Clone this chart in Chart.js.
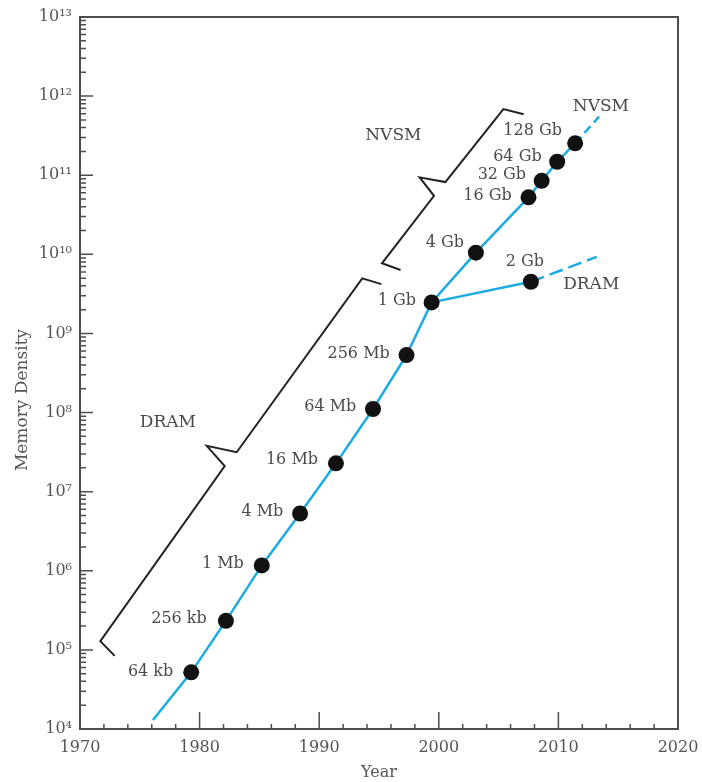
<!DOCTYPE html>
<html>
<head>
<meta charset="utf-8">
<script src="https://cdn.jsdelivr.net/npm/chart.js@4.4.0/dist/chart.umd.min.js"></script>
<style>
html, body { margin: 0; padding: 0; background: #fff; }
#wrap { width: 702px; height: 782px; }
</style>
</head>
<body>
<div id="wrap"><canvas id="memChart"></canvas></div>
<script>
// chip generations
var dramNames  = ["64 kb", "256 kb", "1 Mb", "4 Mb", "16 Mb", "64 Mb", "256 Mb", "1 Gb"];
var dramYears  = [1979.3, 1982.2, 1985.2, 1988.4, 1991.4, 1994.5, 1997.3, 1999.4];
var dramValues = [5.2e4, 2.33e5, 1.17e6, 5.3e6, 2.28e7, 1.11e8, 5.33e8, 2.47e9];

var nvsmNames  = ["4 Gb", "16 Gb", "32 Gb", "64 Gb", "128 Gb"];
var nvsmYears  = [2003.1, 2007.5, 2008.6, 2009.9, 2011.4];
var nvsmValues = [1.05e10, 5.25e10, 8.5e10, 1.48e11, 2.53e11];

var dram2Name  = ["2 Gb"];
var dram2Year  = [2007.7];
var dram2Value = [4.5e9];

// trend start and dashed projections
var trendStart = [1976.1, 1.3e4];
var nvsmProjEnd = [2013.4, 5.5e11];
var dramProjEnd = [2013.2, 9.3e9];

// label anchors (right edge of text) for each chip, same order as names
var dramLabelYears  = [1977.8, 1980.6, 1983.7, 1987.0, 1989.9, 1993.1, 1995.9, 1998.1];
var dramLabelValues = [5.3e4, 2.5e5, 1.24e6, 5.57e6, 2.51e7, 1.18e8, 5.6e8, 2.59e9];
var nvsmLabelYears  = [2002.1, 2006.1, 2007.3, 2008.6, 2010.3];
var nvsmLabelValues = [1.38e10, 5.46e10, 1.0e11, 1.71e11, 3.65e11];
var dram2LabelYear  = [2007.2];
var dram2LabelValue = [8.06e9];

// era brackets
var dramBracketYears  = [1972.9, 1971.7, 1982.1, 1980.6, 1983.1, 1993.6, 1995.2];
var dramBracketValues = [8.4e4, 1.29e5, 2.1e7, 3.8e7, 3.15e7, 4.97e9, 4.2e9];
var nvsmBracketYears  = [1996.8, 1995.25, 1999.6, 1998.4, 2000.55, 2005.4, 2007.1];
var nvsmBracketValues = [6.34e9, 7.7e9, 5.5e10, 9.4e10, 8.2e10, 6.87e11, 5.9e11];

// free notes
var noteTexts  = ["DRAM", "NVSM", "NVSM", "DRAM"];
var noteYears  = [1975.0, 1993.85, 2011.2, 2010.4];
var noteValues = [7.43e7, 3.16e11, 7.35e11, 4.09e9];

var xMajor = [1970, 1980, 1990, 2000, 2010, 2020];
var yExponents = [4, 5, 6, 7, 8, 9, 10, 11, 12, 13];

var blue = "#1aabe3";
var ink = "#222";
var textGrey = "#4a4a4a";
var serif = "'DejaVu Serif', serif";

function pts(xs, ys) {
    var out = [];
    for (var i = 0; i < xs.length; i++) out.push({x: xs[i], y: ys[i]});
    return out;
}
function sup(n) {
    var s = "⁰¹²³⁴⁵⁶⁷⁸⁹";
    return String(n).split("").map(function (d) { return s[+d]; }).join("");
}

var trendXs = [trendStart[0]].concat(dramYears, nvsmYears);
var trendYs = [trendStart[1]].concat(dramValues, nvsmValues);

var lineBase = { showLine: true, pointRadius: 0, fill: false, tension: 0, borderWidth: 2.5 };

var frameAndNotes = {
    id: "frameAndNotes",
    afterDatasetsDraw: function (chart) {
        var ctx = chart.ctx, xs = chart.scales.x, ys = chart.scales.y;
        ctx.save();
        ctx.fillStyle = textGrey;
        ctx.textBaseline = "middle";
        ctx.font = "16px " + serif;
        ctx.textAlign = "right";
        var names = dramNames.concat(nvsmNames);
        var lx = dramLabelYears.concat(nvsmLabelYears);
        var ly = dramLabelValues.concat(nvsmLabelValues);
        for (var i = 0; i < names.length; i++) {
            ctx.fillText(names[i], xs.getPixelForValue(lx[i]), ys.getPixelForValue(ly[i]));
        }
        ctx.textAlign = "center";
        ctx.fillText(dram2Name[0], xs.getPixelForValue(dram2LabelYear[0]), ys.getPixelForValue(dram2LabelValue[0]));
        ctx.textAlign = "left";
        ctx.font = "17px " + serif;
        for (var j = 0; j < noteTexts.length; j++) {
            ctx.fillText(noteTexts[j], xs.getPixelForValue(noteYears[j]), ys.getPixelForValue(noteValues[j]));
        }
        ctx.restore();
    },
    afterDraw: function (chart) {
        var ctx = chart.ctx, a = chart.chartArea, xs = chart.scales.x, ys = chart.scales.y;
        ctx.save();
        ctx.strokeStyle = "#4d4d4d";
        ctx.lineWidth = 2;
        ctx.strokeRect(a.left, a.top, a.right - a.left, a.bottom - a.top);

        // inward tick marks
        ctx.lineWidth = 1.5;
        ctx.beginPath();
        for (var yr = 1972; yr < 2020; yr += 2) {
            var px = xs.getPixelForValue(yr);
            var len = (yr % 10 === 0) ? 17 : 5;
            ctx.moveTo(px, a.bottom);
            ctx.lineTo(px, a.bottom - len);
        }
        for (var e = 4; e < 13; e++) {
            for (var k = 1; k <= 9; k++) {
                if (e === 4 && k === 1) continue;
                var py = ys.getPixelForValue(k * Math.pow(10, e));
                var l2 = (k === 1) ? 13 : 6;
                ctx.moveTo(a.left, py);
                ctx.lineTo(a.left + l2, py);
            }
        }
        var p13 = ys.getPixelForValue(1e13);
        ctx.moveTo(a.left, p13);
        ctx.lineTo(a.left + 13, p13);
        ctx.stroke();

        // y axis title
        ctx.fillStyle = "#555";
        ctx.font = "17px " + serif;
        ctx.textAlign = "center";
        ctx.textBaseline = "middle";
        ctx.translate(23, 400);
        ctx.rotate(-Math.PI / 2);
        ctx.fillText("Memory Density", 0, 0);
        ctx.restore();
    }
};

var chartPlaceholder = document.getElementById("memChart");
var memChart = new Chart(chartPlaceholder, {
    type: "scatter",
    data: {
        datasets: [
            {
                label: "chips",
                data: pts(dramYears.concat(nvsmYears, dram2Year), dramValues.concat(nvsmValues, dram2Value)),
                showLine: false,
                pointRadius: 8,
                pointBackgroundColor: "#111",
                pointBorderWidth: 0,
                order: 0
            },
            Object.assign({}, lineBase, {
                label: "trend",
                data: pts(trendXs, trendYs),
                borderColor: blue,
                order: 1
            }),
            Object.assign({}, lineBase, {
                label: "nvsm projection",
                data: pts([nvsmYears[nvsmYears.length - 1], nvsmProjEnd[0]], [nvsmValues[nvsmValues.length - 1], nvsmProjEnd[1]]),
                borderColor: blue,
                borderDash: [9, 5],
                order: 1
            }),
            Object.assign({}, lineBase, {
                label: "dram branch",
                data: pts([dramYears[dramYears.length - 1], dram2Year[0]], [dramValues[dramValues.length - 1], dram2Value[0]]),
                borderColor: blue,
                order: 1
            }),
            Object.assign({}, lineBase, {
                label: "dram projection",
                data: pts([dram2Year[0], dramProjEnd[0]], [dram2Value[0], dramProjEnd[1]]),
                borderColor: blue,
                borderDash: [14, 6],
                order: 1
            }),
            Object.assign({}, lineBase, {
                label: "DRAM era",
                data: pts(dramBracketYears, dramBracketValues),
                borderColor: ink,
                borderWidth: 2,
                order: 2
            }),
            Object.assign({}, lineBase, {
                label: "NVSM era",
                data: pts(nvsmBracketYears, nvsmBracketValues),
                borderColor: ink,
                borderWidth: 2,
                order: 2
            })
        ]
    },
    options: {
        responsive: true,
        maintainAspectRatio: false,
        animation: false,
        layout: { padding: { top: 17, right: 24, left: 0, bottom: 0 } },
        plugins: {
            legend: { display: false },
            tooltip: { enabled: false }
        },
        scales: {
            x: {
                type: "linear",
                min: 1970,
                max: 2020,
                grid: { display: false, drawTicks: false },
                border: { display: false },
                afterBuildTicks: function (scale) {
                    scale.ticks = xMajor.map(function (v) { return {value: v}; });
                },
                afterFit: function (scale) {
                    scale.height = 53;
                    scale.paddingLeft = 0;
                    scale.paddingRight = 0;
                },
                ticks: {
                    autoSkip: false,
                    maxRotation: 0,
                    padding: 9,
                    color: "#555",
                    font: { family: serif, size: 16 },
                    callback: function (v) { return String(v); }
                },
                title: {
                    display: true,
                    text: "Year",
                    color: "#555",
                    font: { family: serif, size: 16 },
                    padding: { top: 0, bottom: 0 }
                }
            },
            y: {
                type: "logarithmic",
                min: 1e4,
                max: 1e13,
                grid: { display: false, drawTicks: false },
                border: { display: false },
                afterBuildTicks: function (scale) {
                    scale.ticks = yExponents.map(function (e) { return {value: Math.pow(10, e)}; });
                },
                afterFit: function (scale) {
                    scale.width = 80;
                    scale.paddingTop = 0;
                    scale.paddingBottom = 0;
                },
                ticks: {
                    autoSkip: false,
                    padding: 8,
                    color: "#555",
                    font: { family: serif, size: 16 },
                    callback: function (v) { return "10" + sup(Math.round(Math.log10(v))); }
                }
            }
        }
    },
    plugins: [frameAndNotes]
});
</script>
</body>
</html>
